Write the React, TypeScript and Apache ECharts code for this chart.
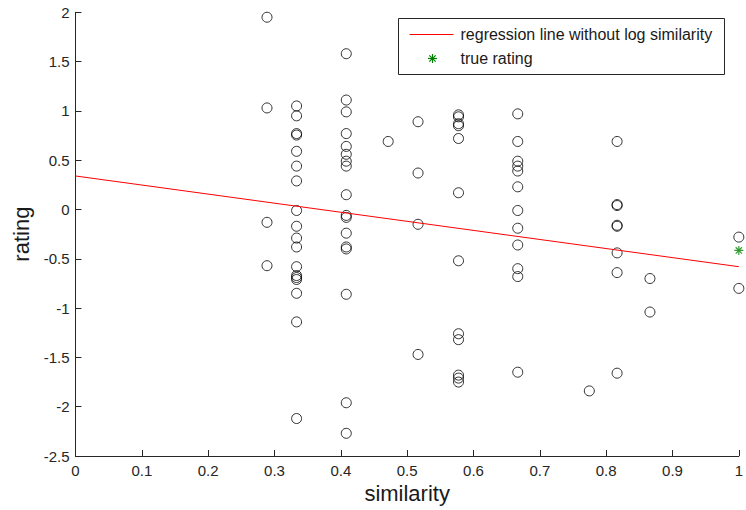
import React, { useEffect, useRef } from "react";
import * as echarts from "echarts";

// similarity levels (x) and the ratings observed at each level (y)
const simCols: number[] = [0.2887, 0.3333, 0.4082, 0.4714, 0.5164, 0.5774, 0.6667, 0.7746, 0.8165, 0.866, 1.0];
const ratingsByCol: number[][] = [
  [1.95, 1.03, -0.13, -0.57],
  [1.05, 0.95, 0.77, 0.755, 0.59, 0.44, 0.29, -0.01, -0.17, -0.29, -0.38, -0.58, -0.67, -0.69, -0.71, -0.85, -1.14, -2.12],
  [1.58, 1.11, 0.99, 0.77, 0.64, 0.56, 0.49, 0.44, 0.15, -0.06, -0.08, -0.24, -0.38, -0.4, -0.86, -1.96, -2.27],
  [0.69],
  [0.89, 0.37, -0.15, -1.47],
  [0.96, 0.94, 0.87, 0.85, 0.72, 0.17, -0.52, -1.26, -1.32, -1.68, -1.71, -1.75],
  [0.97, 0.69, 0.49, 0.44, 0.39, 0.23, -0.01, -0.19, -0.36, -0.6, -0.68, -1.65],
  [-1.84],
  [0.69, 0.05, 0.04, -0.16, -0.17, -0.44, -0.64, -1.66],
  [-0.7, -1.04],
  [-0.28, -0.8],
];

// regression line without log similarity
const regX: number[] = [0, 1];
const regY: number[] = [0.34, -0.58];

// true rating
const trueX: number[] = [1.0];
const trueY: number[] = [-0.415];

const legendLabels: string[] = ["regression line without log similarity", "true rating"];

const FONT = "'Liberation Sans', Arial, Helvetica, sans-serif";
const STAR = "path://M5,0L5,10M0,5L10,5M1.5,1.5L8.5,8.5M1.5,8.5L8.5,1.5";

export default function App() {
  const ref = useRef<HTMLDivElement>(null);

  useEffect(() => {
    if (!ref.current) return;
    const chart = echarts.init(ref.current, undefined, { renderer: "svg" });

    const scatterData: number[][] = [];
    simCols.forEach((x, i) => {
      ratingsByCol[i].forEach((y) => scatterData.push([x, y]));
    });
    const regData = regX.map((x, i) => [x, regY[i]]);
    const trueData = trueX.map((x, i) => [x, trueY[i]]);

    const legendX = 398;
    const legendY = 18;

    chart.setOption({
      animation: false,
      backgroundColor: "#ffffff",
      grid: { left: 75.5, right: 6.5, top: 12.3, bottom: 54, containLabel: false },
      xAxis: {
        type: "value",
        min: 0,
        max: 1,
        interval: 0.1,
        name: "similarity",
        nameLocation: "middle",
        nameGap: 26,
        nameTextStyle: { fontFamily: FONT, fontSize: 22, color: "#1a1a1a" },
        axisLine: { show: true, onZero: false, lineStyle: { color: "#262626", width: 1 } },
        axisTick: { show: true, inside: true, length: 6, lineStyle: { color: "#262626" } },
        axisLabel: { fontFamily: FONT, fontSize: 15, color: "#262626", margin: 7 },
        splitLine: { show: false },
      },
      yAxis: {
        type: "value",
        min: -2.5,
        max: 2,
        interval: 0.5,
        name: "rating",
        nameLocation: "middle",
        nameRotate: 90,
        nameGap: 42,
        nameTextStyle: { fontFamily: FONT, fontSize: 22, color: "#1a1a1a" },
        axisLine: { show: true, onZero: false, lineStyle: { color: "#262626", width: 1 } },
        axisTick: { show: true, inside: true, length: 6, lineStyle: { color: "#262626" } },
        axisLabel: { fontFamily: FONT, fontSize: 15, color: "#262626", margin: 6 },
        splitLine: { show: false },
      },
      series: [
        {
          name: "ratings",
          type: "scatter",
          data: scatterData,
          symbol: "circle",
          symbolSize: 10,
          clip: false,
          itemStyle: { color: "transparent", borderColor: "#000000", borderWidth: 1 },
          z: 2,
        },
        {
          name: legendLabels[0],
          type: "line",
          data: regData,
          symbol: "none",
          lineStyle: { color: "#ff0000", width: 1 },
          z: 3,
        },
        {
          name: legendLabels[1],
          type: "scatter",
          data: trueData,
          symbol: STAR,
          symbolSize: 9,
          clip: false,
          itemStyle: { color: "transparent", borderColor: "#008000", borderWidth: 1.2 },
          z: 4,
        },
      ],
      graphic: [
        {
          type: "group",
          left: legendX,
          top: legendY,
          z: 100,
          children: [
            {
              type: "rect",
              shape: { x: 0, y: 0, width: 326, height: 56 },
              style: { fill: "#ffffff", stroke: "#262626", lineWidth: 1 },
            },
            {
              type: "line",
              shape: { x1: 11, y1: 16, x2: 55, y2: 16 },
              style: { stroke: "#ff0000", lineWidth: 1 },
            },
            {
              type: "text",
              x: 62,
              y: 16,
              style: { text: legendLabels[0], font: "16px " + FONT, fill: "#1a1a1a", verticalAlign: "middle", align: "left" },
            },
            {
              type: "group",
              x: 34,
              y: 40,
              children: [
                { type: "line", shape: { x1: 0, y1: -4.5, x2: 0, y2: 4.5 }, style: { stroke: "#008000", lineWidth: 1.2 } },
                { type: "line", shape: { x1: -4.5, y1: 0, x2: 4.5, y2: 0 }, style: { stroke: "#008000", lineWidth: 1.2 } },
                { type: "line", shape: { x1: -3.2, y1: -3.2, x2: 3.2, y2: 3.2 }, style: { stroke: "#008000", lineWidth: 1.2 } },
                { type: "line", shape: { x1: -3.2, y1: 3.2, x2: 3.2, y2: -3.2 }, style: { stroke: "#008000", lineWidth: 1.2 } },
              ],
            },
            {
              type: "text",
              x: 62,
              y: 40,
              style: { text: legendLabels[1], font: "16px " + FONT, fill: "#1a1a1a", verticalAlign: "middle", align: "left" },
            },
          ],
        },
      ],
    });

    return () => {
      chart.dispose();
    };
  }, []);

  return (
    <div
      ref={ref}
      style={{ position: "absolute", left: 0, top: 0, width: 746, height: 510, background: "#ffffff" }}
    />
  );
}
